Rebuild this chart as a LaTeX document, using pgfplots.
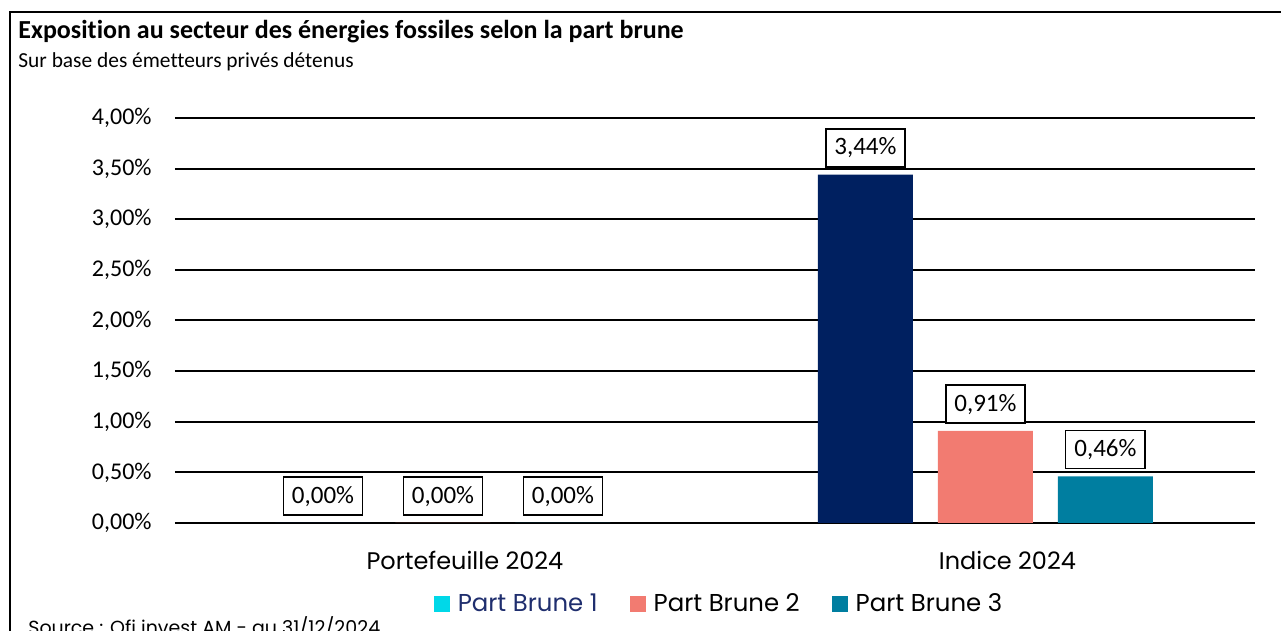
\documentclass[border=0pt]{standalone}
\usepackage{pgfplots}
\pgfplotsset{compat=1.18}
\usepackage{fontspec}
\setmainfont{Carlito}[Ligatures=NoCommon]
\newfontfamily\lomafont{Poppins}
\definecolor{navybar}{RGB}{0,32,96}
\definecolor{salmonbar}{RGB}{242,123,113}
\definecolor{tealbar}{RGB}{0,126,160}
\definecolor{cyanleg}{RGB}{0,216,232}
\definecolor{navytext}{RGB}{31,46,110}
\begin{document}
\begin{tikzpicture}[x=0.5pt,y=0.5pt]
\useasboundingbox (0,0) rectangle (1281,631);
\fill[white] (0,0) rectangle (1281,631);
\draw[line width=1pt] (10,-20) -- (10,619) -- (1300,619);
\node[anchor=base west, inner sep=0pt] at (18,592) {\fontsize{13}{15}\selectfont\bfseries Exposition au secteur des énergies fossiles selon la part brune};
\node[anchor=base west, inner sep=0pt] at (18,563) {\fontsize{10.7}{12}\selectfont Sur base des émetteurs privés détenus};
\node[anchor=base west, inner sep=0pt] at (28,-4) {\lomafont\fontsize{9.5}{12}\selectfont Source : Ofi invest AM - au 31/12/2024};
\begin{axis}[
  at={(87.5pt,54pt)}, anchor=south west,
  scale only axis, width=540pt, height=202.5pt,
  xmin=-0.494, xmax=1.497, ymin=0, ymax=4,
  axis line style={draw=none},
  tick style={draw=none}, major tick length=0pt,
  /pgf/number format/assume math mode=true,
  ytick={0,0.5,1,1.5,2,2.5,3,3.5,4},
  yticklabel={\pgfmathprintnumber[fixed,fixed zerofill,precision=2,use comma]{\tick}\%},
  yticklabel style={anchor=east, inner sep=0pt, xshift=-11.5pt, font=\fontsize{12}{14}\selectfont},
  xtick={0,1},
  xticklabels={Portefeuille 2024, Indice 2024},
  xticklabel style={anchor=base, inner sep=0pt, yshift=-23.5pt, xshift=11pt, font=\lomafont\fontsize{12}{14}\selectfont},
  ymajorgrids, grid style={black, line width=1pt},
  ybar, bar width=0.1751, bar shift=0pt,
  nodes near coords={\pgfmathprintnumber[fixed,fixed zerofill,precision=2,use comma]{\pgfplotspointmeta}\%},
  every node near coord/.append style={draw=black, line width=0.75pt, fill=white, text=black,
     font=\fontsize{12.5}{14}\selectfont, inner xsep=4.3pt, inner ysep=0pt, minimum height=19pt, anchor=south, yshift=3.5pt},
  legend columns=3,
  legend image code/.code={\fill[#1, draw=none] (0pt,-4pt) rectangle (8pt,4pt); \path[draw=none, fill=none] (0pt,0pt) -- (10pt,0pt);},
  legend style={at={(0.5046,-0.2)}, anchor=center, draw=none, fill=none,
     font=\lomafont\fontsize{12.2}{14}\selectfont,
     /tikz/every even column/.append style={column sep=14pt}},
]
\addlegendimage{fill=cyanleg}
\addlegendimage{fill=salmonbar}
\addlegendimage{fill=tealbar}
\addplot[fill=navybar, draw=none, forget plot] coordinates {(-0.2212,0) (0.7788,3.44)};
\addplot[fill=salmonbar, draw=none, forget plot] coordinates {(0,0) (1,0.91)};
\addplot[fill=tealbar, draw=none, forget plot] coordinates {(0.2212,0) (1.2212,0.46)};
\legend{\textcolor{navytext}{Part Brune 1}, Part Brune 2, Part Brune 3}
\end{axis}
\end{tikzpicture}
\end{document}
